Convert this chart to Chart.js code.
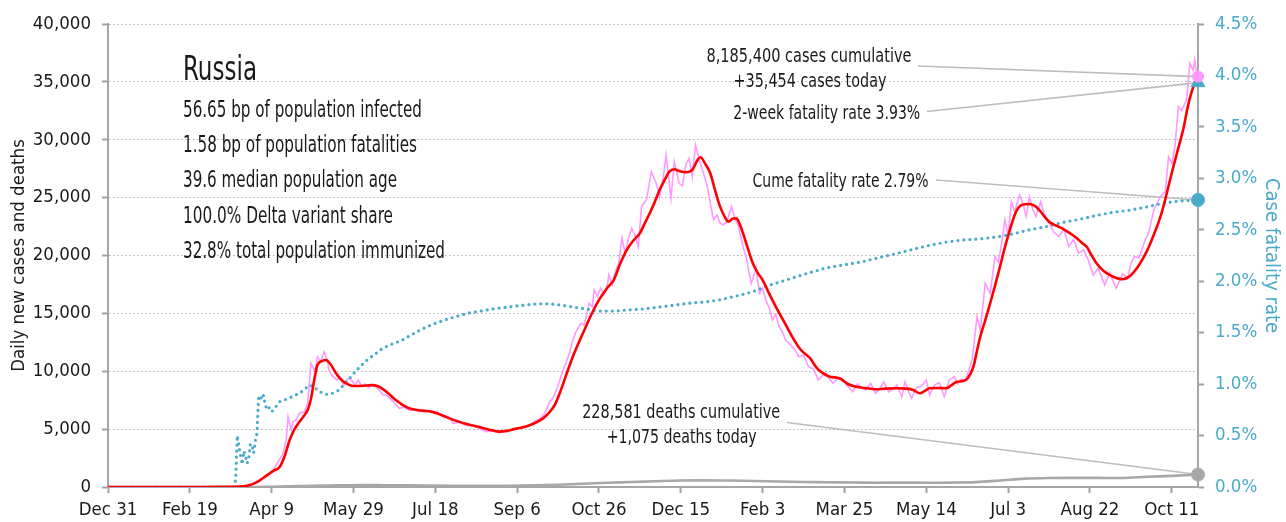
<!DOCTYPE html>
<html>
<head>
<meta charset="utf-8">
<script src="https://cdn.jsdelivr.net/npm/chart.js@4.4.1/dist/chart.umd.min.js"></script>
<style>
  html, body { margin: 0; padding: 0; background: #ffffff; }
  #wrap { width: 1286px; height: 522px; position: relative; }
</style>
</head>
<body>
<div id="wrap"><canvas id="chart"></canvas></div>
<script>
// ---- Axis ticks (day 0 = Dec 31, 2019) ----
const xTickDays   = [0, 50, 100, 150, 200, 250, 300, 350, 400, 450, 500, 550, 600, 650];
const xTickLabels = ['Dec 31', 'Feb 19', 'Apr 9', 'May 29', 'Jul 18', 'Sep 6', 'Oct 26',
                     'Dec 15', 'Feb 3', 'Mar 25', 'May 14', 'Jul 3', 'Aug 22', 'Oct 11'];
const lastDay = 666;

// ---- Daily new cases ----
const dailyDays = [0, 30, 60, 75, 82, 86, 89, 93, 96, 99, 101, 104, 107, 109, 110, 112, 113, 115, 117, 120,
  122, 124, 126, 127, 128, 130, 132, 134, 135, 137, 140, 142, 144, 146, 148, 151, 153, 155, 157, 159,
  162, 165, 168, 170, 172, 174, 176, 178, 181, 184, 187, 190, 194, 198, 201, 205, 208, 211, 215, 219,
  223, 227, 231, 235, 239, 243, 246, 250, 254, 258, 261, 264, 267, 270, 272, 274, 276, 278, 280, 282,
  284, 286, 289, 291, 294, 296, 297, 299, 301, 303, 305, 306, 308, 310, 312, 314, 316, 318, 320, 322,
  324, 326, 329, 332, 335, 337, 339, 341, 344, 346, 349, 351, 353, 355, 357, 359, 361, 363, 366, 368,
  370, 372, 374, 376, 378, 381, 383, 385, 388, 390, 393, 396, 398, 400, 402, 404, 406, 408, 410, 412,
  414, 417, 420, 422, 425, 428, 431, 434, 437, 439, 441, 443, 446, 449, 452, 455, 458, 461, 463, 466,
  469, 472, 474, 477, 480, 482, 485, 487, 489, 491, 494, 497, 500, 502, 505, 508, 511, 514, 517, 519,
  521, 524, 526, 528, 531, 533, 536, 539, 542, 544, 546, 548, 550, 552, 554, 557, 559, 561, 563, 565,
  567, 570, 572, 575, 578, 581, 584, 587, 590, 593, 596, 599, 602, 605, 609, 612, 616, 620, 623, 625,
  627, 630, 633, 636, 639, 643, 646, 648, 650, 652, 654, 656, 659, 661, 663, 664, 665, 666];
const dailyCases = [0, 0, 0, 10, 60, 150, 300, 600, 900, 1200, 1470, 2200, 2910, 4200, 6070, 4920, 5640, 5800, 6370, 6500,
  7230, 10690, 10100, 10390, 11260, 10830, 11690, 11000, 10110, 9600, 9240, 9500, 8800, 9300, 9390, 8810, 9240, 8700, 8900, 8600,
  8810, 8500, 7950, 7950, 7700, 7400, 7080, 6800, 6900, 6600, 6700, 6500, 6650, 6400, 6500, 6050, 6100, 5500, 5600, 5300,
  5350, 5050, 4780, 4850, 4700, 4900, 4850, 5100, 5200, 5360, 5700, 5900, 6400, 7370, 7700, 8380, 9200, 10110, 10800, 11600,
  12700, 13420, 14140, 14000, 15870, 15580, 17020, 16450, 17170, 16600, 17310, 18320, 17500, 18600, 19330, 21490, 20190, 21500, 22350, 21770,
  20760, 24220, 24800, 27240, 26240, 25080, 26500, 28680, 24940, 28100, 26240, 26000, 27820, 28390, 26810, 29550, 28390, 27500, 26090, 24500,
  23070, 23500, 22800, 22640, 22900, 24220, 23200, 22640, 20760, 19800, 17600, 18870, 16740, 17200, 16100, 15500, 14430, 14900, 13900, 13400,
  12700, 12300, 11800, 11260, 11400, 10390, 10200, 9240, 9700, 9820, 9300, 8960, 9400, 9240, 8700, 8230, 8890, 8500, 8380, 8960,
  8100, 8600, 9100, 8230, 8500, 8810, 7800, 9100, 8300, 7660, 8600, 8700, 9240, 7950, 8800, 9000, 7800, 9240, 9530, 8900,
  9300, 9240, 10110, 11000, 14720, 13560, 17600, 16740, 19900, 19400, 21000, 23070, 21770, 24650, 23790, 25230, 24500, 23360, 25080, 24000,
  23360, 24660, 23600, 22780, 22000, 21630, 22300, 20760, 21400, 20200, 20500, 19600, 18320, 18900, 17450, 18500, 17170, 18440, 18000, 19300,
  19900, 19800, 21060, 22060, 23930, 25080, 25500, 28540, 27970, 29500, 32860, 32500, 33440, 36610, 36000, 36900, 35740, 35454];

// ---- 7-day average of new cases ----
const avgDays = [0, 60, 80, 85, 90, 93, 97, 101, 105, 108, 111, 114, 117, 120, 122, 124, 126, 128, 131, 133,
  136, 139, 143, 147, 150, 156, 161, 165, 169, 172, 175, 178, 181, 185, 192, 198, 204, 211, 219, 227,
  233, 239, 244, 248, 253, 258, 262, 266, 270, 273, 276, 280, 284, 288, 292, 296, 300, 305, 309, 313,
  317, 321, 325, 328, 331, 334, 337, 340, 343, 346, 349, 353, 357, 360, 362, 365, 368, 371, 374, 377,
  379, 382, 384, 386, 388, 391, 394, 397, 400, 404, 408, 413, 418, 423, 429, 433, 437, 441, 447, 452,
  457, 463, 469, 475, 482, 488, 492, 496, 499, 502, 507, 512, 515, 518, 524, 527, 529, 531, 533, 536,
  539, 542, 545, 548, 551, 554, 556, 559, 563, 566, 569, 572, 575, 579, 583, 588, 592, 595, 598, 601,
  604, 608, 612, 616, 620, 624, 627, 630, 633, 636, 639, 642, 645, 648, 651, 654, 657, 660, 663, 666];
const avgCases = [0, 0, 30, 100, 350, 600, 1000, 1400, 1750, 2700, 4060, 5000, 5640, 6200, 6650, 7600, 9240, 10540, 10900, 10970,
  10600, 9900, 9200, 8850, 8720, 8750, 8800, 8700, 8350, 8000, 7600, 7300, 7000, 6750, 6600, 6500, 6200, 5800, 5450, 5180,
  4950, 4780, 4850, 5000, 5150, 5360, 5600, 5950, 6500, 7100, 8100, 9700, 11260, 12600, 13850, 15100, 16160, 17200, 17880, 19300,
  20480, 21300, 21920, 22800, 23650, 24600, 25660, 26500, 27240, 27450, 27300, 27190, 27390, 28200, 28490, 27900, 27100, 25600, 24220, 23300,
  22920, 23200, 23220, 22700, 21920, 20600, 19330, 18500, 17880, 16700, 15580, 14300, 12990, 11900, 11120, 10300, 9820, 9530, 9390, 8900,
  8670, 8550, 8440, 8500, 8530, 8500, 8380, 8100, 8300, 8530, 8550, 8530, 8750, 9050, 9240, 9800, 10500, 11800, 13000, 14400,
  15870, 17400, 19030, 20700, 22200, 23500, 24080, 24400, 24450, 24300, 23930, 23400, 22920, 22600, 22350, 21900, 21490, 21100, 20760, 20000,
  19330, 18700, 18320, 18050, 17950, 18170, 18600, 19180, 19900, 20760, 21800, 22900, 24300, 26000, 27700, 29300, 30900, 33000, 34500, 35300];

// ---- Daily deaths ----
const deathDays = [0, 85, 95, 105, 115, 125, 135, 145, 155, 165, 175, 185, 200, 215, 230, 245, 260, 275, 290, 305,
  320, 335, 350, 365, 380, 395, 410, 425, 440, 455, 470, 485, 500, 515, 530, 545, 560, 575, 590, 605,
  620, 635, 650, 666];
const deathValues = [0, 0, 10, 40, 80, 100, 130, 150, 170, 160, 150, 140, 120, 110, 100, 110, 150, 200, 280, 370,
  430, 500, 560, 570, 560, 520, 480, 430, 410, 390, 370, 380, 370, 380, 420, 560, 720, 780, 790, 790,
  780, 880, 960, 1075];

// ---- Cumulative case fatality rate (%) ----
const cfrDays = [0, 77, 78, 79, 80, 81, 82, 83, 84, 85, 86, 87, 88, 89, 90, 91, 92, 93, 94, 95, 96,
  97, 98, 100, 102, 105, 110, 117, 123, 126, 129, 133, 137, 141, 145, 150, 154, 158, 163, 168, 172,
  177, 180, 190, 198, 207, 220, 235, 250, 262, 270, 276, 288, 300, 310, 317, 327, 337, 347, 357, 366,
  374, 382, 390, 396, 402, 410, 418, 428, 439, 450, 461, 471, 482, 492, 502, 512, 522, 532, 543, 553,
  563, 573, 583, 593, 604, 614, 624, 634, 645, 655, 666];
const cfrValues = [0, 0, 0.07, 0.50, 0.40, 0.30, 0.22, 0.35, 0.30, 0.23, 0.28, 0.42, 0.40, 0.33, 0.45, 0.52, 0.86, 0.89, 0.85, 0.89, 0.80,
  0.76, 0.78, 0.73, 0.77, 0.83, 0.86, 0.91, 0.99, 0.97, 0.93, 0.90, 0.91, 0.94, 1.01, 1.10, 1.17, 1.23, 1.29, 1.35, 1.38,
  1.41, 1.43, 1.52, 1.58, 1.63, 1.69, 1.73, 1.76, 1.78, 1.78, 1.77, 1.74, 1.71, 1.71, 1.72, 1.73, 1.75, 1.77, 1.79, 1.80,
  1.82, 1.85, 1.88, 1.91, 1.95, 1.99, 2.03, 2.08, 2.13, 2.16, 2.19, 2.23, 2.27, 2.31, 2.35, 2.38, 2.40, 2.41, 2.43, 2.46,
  2.50, 2.53, 2.57, 2.60, 2.64, 2.67, 2.69, 2.72, 2.76, 2.78, 2.79];

// ---- Headline figures ----
const country = 'Russia';
const statLines = ['56.65 bp of population infected', '1.58 bp of population fatalities', '39.6 median population age',
                   '100.0% Delta variant share', '32.8% total population immunized'];
const casesCumulative = 8185400;
const casesToday = 35454;
const deathsCumulative = 228581;
const deathsToday = 1075;
const twoWeekFatality = 3.93;
const cumeFatality = 2.79;

// ---- Font: prefer an installed narrow face ----
function pickFont(list, fallback) {
  const c = document.createElement('canvas').getContext('2d');
  const s = 'abcdefghijklmnopqrstuvwxyz0123456789,%';
  c.font = '40px monospace';
  const base = c.measureText(s).width;
  for (const f of list) {
    c.font = '40px "' + f + '", monospace';
    if (Math.abs(c.measureText(s).width - base) > 0.5) return f;
  }
  return fallback;
}
const FONT = pickFont(['Liberation Sans Narrow', 'Arial Narrow', 'DejaVu Sans Condensed', 'Roboto Condensed'], 'Roboto');

const PINK = '#ff99ff', RED = '#ff0000', CYAN = '#4aabc9', GREY = '#a8a8a8', INK = '#1a1a1a';
const pts = (xs, ys) => xs.map((x, i) => ({ x: x, y: ys[i] }));
const fmt = n => n.toLocaleString('en-US');

// Text squeezed horizontally to a given width
function fitText(ctx, str, x, y, w, size, align, color) {
  ctx.save();
  ctx.font = size + 'px "' + FONT + '"';
  const m = ctx.measureText(str).width;
  ctx.fillStyle = color || INK;
  ctx.textBaseline = 'alphabetic';
  ctx.textAlign = align;
  ctx.translate(x, y);
  ctx.scale(w / m, 1);
  ctx.fillText(str, 0, 0);
  ctx.restore();
}

const notes = {
  id: 'notes',
  beforeDatasetsDraw(chart) {
    const ctx = chart.ctx, xs = chart.scales.x, y = chart.scales.y, y2 = chart.scales.y2;
    const ex = xs.getPixelForValue(lastDay);
    const links = [
      [918, 66, y.getPixelForValue(casesToday)],
      [927, 111.5, y2.getPixelForValue(twoWeekFatality)],
      [936, 180, y2.getPixelForValue(cumeFatality)],
      [787, 422.5, y.getPixelForValue(deathsToday)]
    ];
    ctx.save();
    ctx.strokeStyle = '#bdbdbd';
    ctx.lineWidth = 1.6;
    links.forEach(l => { ctx.beginPath(); ctx.moveTo(l[0], l[1]); ctx.lineTo(ex, l[2]); ctx.stroke(); });
    ctx.restore();
  },
  afterDatasetsDraw(chart) {
    const ctx = chart.ctx;
    fitText(ctx, country, 183, 80, 74, 34, 'left');
    const bases = [116.7, 151.7, 187.3, 222.7, 258.3];
    const widths = [239, 234, 214, 210, 262];
    statLines.forEach((s, i) => fitText(ctx, s, 183, bases[i], widths[i], 22.5, 'left'));
    fitText(ctx, fmt(casesCumulative) + ' cases cumulative', 809, 62.3, 205, 19.5, 'center');
    fitText(ctx, '+' + fmt(casesToday) + ' cases today', 810, 87.3, 153, 19.5, 'center');
    fitText(ctx, '2-week fatality rate ' + twoWeekFatality.toFixed(2) + '%', 826.7, 119.3, 187, 19.5, 'center');
    fitText(ctx, 'Cume fatality rate ' + cumeFatality.toFixed(2) + '%', 840.5, 187.3, 176, 19.5, 'center');
    fitText(ctx, fmt(deathsCumulative) + ' deaths cumulative', 681.2, 418.3, 198, 19.5, 'center');
    fitText(ctx, '+' + fmt(deathsToday) + ' deaths today', 681.7, 442.7, 150, 19.5, 'center');
  }
};

const endPoint = (v) => [{ x: lastDay, y: v }];

new Chart(document.getElementById('chart'), {
  type: 'line',
  data: {
    datasets: [
      { data: endPoint(casesToday), yAxisID: 'y', showLine: false, pointRadius: 5.5, pointBackgroundColor: PINK, pointBorderColor: PINK, clip: false },
      { data: endPoint(twoWeekFatality), yAxisID: 'y2', showLine: false, pointStyle: 'triangle', pointRadius: 8, pointBackgroundColor: CYAN, pointBorderColor: CYAN, clip: false },
      { data: endPoint(cumeFatality), yAxisID: 'y2', showLine: false, pointRadius: 6.5, pointBackgroundColor: CYAN, pointBorderColor: CYAN, clip: false },
      { data: endPoint(deathsToday), yAxisID: 'y', showLine: false, pointRadius: 6.5, pointBackgroundColor: GREY, pointBorderColor: GREY, clip: false },
      { data: pts(avgDays, avgCases), yAxisID: 'y', borderColor: RED, borderWidth: 2.6, pointRadius: 0, tension: 0.35, cubicInterpolationMode: 'monotone' },
      { data: pts(cfrDays, cfrValues), yAxisID: 'y2', borderColor: CYAN, borderWidth: 3.2, borderDash: [0, 6], borderCapStyle: 'round', pointRadius: 0, tension: 0 },
      { data: pts(dailyDays, dailyCases), yAxisID: 'y', borderColor: PINK, borderWidth: 1.6, pointRadius: 0, tension: 0 },
      { data: pts(deathDays, deathValues), yAxisID: 'y', borderColor: GREY, borderWidth: 2.6, pointRadius: 0, tension: 0.3 }
    ]
  },
  options: {
    responsive: true,
    maintainAspectRatio: false,
    animation: false,
    devicePixelRatio: 1,
    layout: { padding: { top: 24, left: 0, right: 0, bottom: 0 } },
    plugins: { legend: { display: false }, tooltip: { enabled: false } },
    scales: {
      x: {
        type: 'linear', min: 0, max: lastDay,
        afterBuildTicks: s => { s.ticks = xTickDays.map(v => ({ value: v })); },
        afterFit: s => { s.height = 35; },
        ticks: { autoSkip: false, maxRotation: 0, padding: 6, color: INK,
                 font: { family: FONT, size: 18.5 },
                 callback: (v, i) => xTickLabels[i] },
        grid: { drawOnChartArea: false, drawTicks: true, tickLength: 6, tickColor: '#a0a0a0', tickWidth: 2 },
        border: { display: true, color: '#a6a6a6', width: 2 }
      },
      y: {
        position: 'left', min: 0, max: 40000,
        afterFit: s => { s.width = 108; },
        ticks: { stepSize: 5000, padding: 11, color: INK, font: { family: FONT, size: 18.5 },
                 callback: v => fmt(v) },
        grid: { color: '#b0b0b0', lineWidth: 1, tickLength: 6, tickColor: '#a0a0a0', tickWidth: 2 },
        border: { display: true, color: '#a6a6a6', width: 2, dash: [1.5, 2.5] },
        title: { display: true, text: 'Daily new cases and deaths', color: INK,
                 font: { family: FONT, size: 18.5 }, padding: { top: 8, bottom: 0 } }
      },
      y2: {
        position: 'right', min: 0, max: 4.5,
        afterFit: s => { s.width = 88; },
        ticks: { stepSize: 0.5, padding: 11, color: CYAN, font: { family: FONT, size: 18.5 },
                 callback: v => v.toFixed(1) + '%' },
        grid: { drawOnChartArea: false, tickLength: 6, tickColor: '#a0a0a0', tickWidth: 2 },
        border: { display: true, color: '#a6a6a6', width: 2 },
        title: { display: true, text: 'Case fatality rate', color: CYAN,
                 font: { family: FONT, size: 20 }, padding: { top: 3, bottom: 0 } }
      }
    }
  },
  plugins: [notes]
});
</script>
</body>
</html>
